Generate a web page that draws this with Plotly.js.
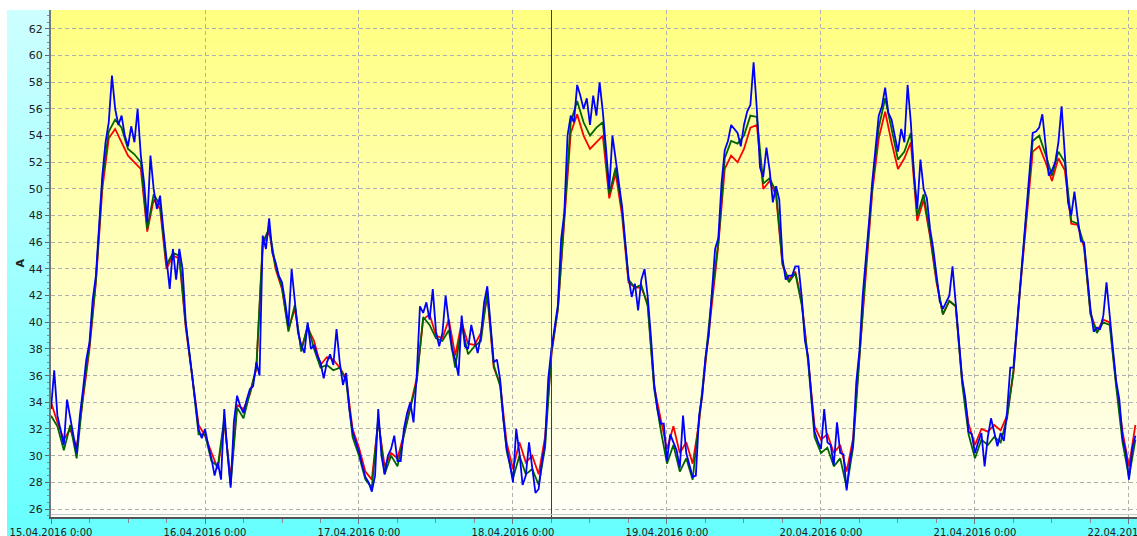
<!DOCTYPE html>
<html>
<head>
<meta charset="utf-8">
<script src="https://cdn.plot.ly/plotly-3.0.1.min.js"></script>
<style>
  html, body { margin: 0; padding: 0; background: #ffffff; }
  #wrap { position: relative; width: 1137px; height: 536px; overflow: hidden; background: #ffffff; }
  #cyan { position: absolute; left: 7px; top: 10px; width: 1130px; height: 526px;
          background: linear-gradient(to bottom, #cdffff 0%, #a6ffff 45%, #66ffff 100%); }
  #plotbg { position: absolute; left: 51px; top: 10px; width: 1086px; height: 507px;
            background: linear-gradient(to bottom, #ffff80 0%, #ffffb8 45%, #fffff8 100%); }
  #chart { position: absolute; left: 0; top: 0; width: 1137px; height: 536px; }
</style>
</head>
<body>
<div id="wrap">
  <div id="cyan"></div>
  <div id="plotbg"></div>
  <div id="chart"></div>
</div>
<script>
// ---- data ----
const seriesStart = '2016-04-15 00:00';
const blueStepMinutes = 30;
const redGreenStepMinutes = 60;

// Phase currents, A
const blueValues = [
  33.5, 36.4, 33.0, 32.0, 30.8, 34.2, 32.7, 31.5, 30.2, 33.0,
  35.0, 37.2, 38.5, 41.7, 43.5, 47.0, 51.0, 53.5, 55.0, 58.5,
  56.0, 54.8, 55.5, 54.0, 53.2, 54.7, 53.5, 56.0, 52.5, 50.5,
  47.5, 52.5, 50.0, 48.5, 49.5, 47.0, 44.5, 42.5, 45.5, 43.2,
  45.5, 44.0, 40.0, 38.0, 36.3, 34.3, 32.0, 31.3, 32.0, 30.8,
  29.8, 28.5, 29.5, 28.2, 33.5, 30.2, 27.6, 32.5, 34.5, 33.7,
  33.2, 34.2, 35.0, 35.2, 37.0, 36.0, 46.5, 45.5, 47.8, 45.2,
  44.5, 43.5, 43.0, 41.5, 39.7, 44.0, 41.5, 39.2, 38.3, 37.7,
  40.0, 38.0, 38.3, 37.5, 37.0, 35.8, 37.0, 37.6, 36.8, 39.5,
  37.0, 35.3, 36.2, 33.5, 31.8, 31.0, 30.3, 29.3, 28.4, 28.0,
  27.3, 28.5, 33.5, 30.0, 28.6, 30.0, 30.5, 31.5, 29.6, 29.6,
  32.0, 33.2, 34.0, 32.5, 36.0, 41.2, 40.7, 41.5, 40.2, 42.5,
  39.3, 38.2, 39.2, 42.0, 39.8, 38.0, 37.2, 36.0, 40.5, 38.2,
  38.0, 39.8, 38.7, 37.7, 39.0, 41.5, 42.7, 40.0, 37.0, 37.2,
  35.7, 32.7, 30.6, 29.4, 28.0, 32.0, 30.2, 27.8, 28.5, 31.0,
  29.3, 27.2, 27.5, 29.5, 31.0, 35.8, 38.0, 39.5, 41.3, 46.2,
  48.2, 54.0, 55.5, 55.0, 57.8, 57.0, 56.0, 56.8, 54.8, 57.0,
  55.5, 58.0, 55.8, 53.0, 50.0, 54.0, 52.3, 50.7, 48.7, 46.0,
  43.4, 41.9, 42.9, 40.9, 43.2, 44.0, 41.9, 38.9, 35.4, 33.5,
  32.4, 32.4, 29.6, 31.6, 31.0, 30.4, 29.1, 33.0, 30.2, 29.2,
  28.4, 28.5, 33.0, 34.5, 37.4, 39.0, 42.2, 45.5, 46.3, 50.4,
  52.9, 53.6, 54.8, 54.5, 54.2, 53.2, 54.8, 55.8, 56.3, 59.5,
  56.0, 51.6, 50.9, 53.1, 51.4, 49.0, 50.2, 49.2, 44.8, 43.2,
  43.5, 43.5, 44.2, 44.2, 41.9, 38.6, 37.4, 34.5, 31.8, 31.1,
  30.5, 33.5, 31.0, 30.8, 29.3, 32.5, 30.2, 30.1, 27.4, 29.6,
  30.9, 35.5, 37.9, 42.0, 44.6, 47.6, 50.6, 53.2, 55.5, 56.2,
  57.6, 55.7, 55.2, 54.0, 52.8, 54.5, 53.5, 57.8, 55.0, 51.0,
  48.5, 52.2, 50.0, 49.3, 47.0, 45.5, 43.5, 41.6, 41.0, 41.5,
  42.0, 44.2, 41.5, 38.6, 35.8, 34.3, 31.8, 31.6, 30.2, 31.0,
  31.7, 29.2, 31.4, 32.8, 31.8, 30.7, 31.7, 31.1, 33.3, 36.6,
  36.6, 39.5, 42.7, 45.5, 48.1, 50.8, 54.2, 54.3, 54.6, 55.6,
  53.2, 51.0, 51.4, 52.0, 53.5, 56.2, 52.6, 49.0, 48.0, 49.8,
  47.8, 46.1, 46.0, 43.2, 41.0, 39.3, 39.6, 39.5, 40.5, 43.0,
  40.2, 38.0, 35.6, 34.2, 31.3, 30.3, 28.2, 30.5, 31.5
];

const redValues = [
  34.0, 32.5, 31.2, 32.0, 30.6, 34.5, 38.0, 43.0, 50.0, 53.8,
  54.5, 53.5, 52.5, 52.0, 51.5, 46.8, 49.2, 48.5, 44.0, 45.0,
  44.8, 39.6, 36.0, 32.3, 31.5, 30.3, 29.0, 32.5, 28.3, 33.8,
  33.5, 34.6, 36.5, 45.8, 46.8, 44.0, 42.5, 39.5, 41.0, 38.0,
  39.6, 38.6, 36.8, 37.4, 37.2, 36.6, 35.8, 32.0, 30.6, 28.8,
  28.2, 32.6, 29.2, 30.2, 29.8, 31.6, 33.6, 35.8, 40.2, 40.6,
  39.0, 38.8, 40.2, 37.5, 40.0, 38.4, 38.3, 39.2, 42.0, 36.6,
  35.4, 31.0, 29.0, 31.0, 29.5, 30.0, 28.6, 31.4, 37.6, 41.0,
  47.6, 54.2, 55.6, 54.0, 53.0, 53.5, 54.0, 49.3, 51.2, 48.0,
  43.0, 42.6, 42.6, 41.4, 35.2, 32.8, 30.5, 32.2, 30.2, 31.0,
  29.4, 32.5, 37.0, 41.8, 45.8, 51.5, 52.5, 52.0, 53.0, 54.6,
  54.8, 50.0, 50.6, 49.5, 44.3, 43.2, 43.8, 41.5, 37.2, 32.2,
  31.2, 31.6, 30.2, 30.8, 28.8, 31.3, 37.4, 44.0, 49.8, 53.8,
  55.8, 53.5, 51.5, 52.3, 53.5, 47.6, 49.2, 46.4, 43.0, 40.6,
  41.6, 41.2, 35.6, 32.4, 30.8, 32.0, 31.8, 32.3, 31.9, 33.0,
  36.2, 42.3, 47.4, 52.8, 53.2, 52.0, 50.6, 52.3, 51.4, 47.4,
  47.3, 45.6, 40.7, 39.3, 40.2, 40.0, 35.4, 31.8, 29.2, 32.3
];

const greenValues = [
  33.0, 32.2, 30.4, 32.3, 29.8, 34.6, 38.3, 43.2, 50.6, 54.3,
  55.2, 54.6, 53.0, 52.6, 52.0, 47.0, 49.6, 48.8, 44.3, 45.2,
  45.0, 39.8, 36.0, 31.6, 31.6, 29.6, 29.2, 32.8, 27.8, 33.6,
  32.8, 34.6, 36.6, 46.0, 47.0, 44.2, 42.6, 39.3, 41.3, 37.8,
  39.8, 38.0, 36.6, 36.8, 36.4, 36.6, 35.6, 31.4, 30.0, 28.2,
  27.6, 32.8, 28.6, 30.0, 29.2, 31.5, 33.6, 35.6, 40.4, 39.8,
  38.8, 38.6, 39.4, 36.6, 39.8, 37.6, 38.2, 38.6, 42.3, 36.8,
  35.2, 30.4, 28.3, 30.0, 28.6, 29.0, 27.8, 30.6, 37.8, 41.0,
  48.0, 55.0, 56.6, 55.0, 54.0, 54.6, 55.0, 49.6, 51.6, 48.4,
  43.2, 42.6, 42.8, 41.2, 35.0, 32.0, 29.4, 30.8, 28.8, 29.8,
  28.2, 32.6, 37.2, 42.0, 46.0, 52.3, 53.6, 53.4, 54.0, 55.5,
  55.4, 50.4, 50.8, 49.8, 44.4, 43.0, 43.7, 41.3, 37.0, 31.4,
  30.2, 30.6, 29.2, 29.8, 27.6, 30.6, 37.6, 44.2, 50.2, 54.6,
  56.8, 54.4, 52.2, 52.8, 54.2, 48.0, 49.6, 46.6, 43.2, 40.6,
  41.6, 41.2, 35.4, 31.6, 29.8, 31.2, 30.8, 31.4, 31.0, 32.8,
  36.4, 42.4, 47.8, 53.6, 54.0, 52.6, 51.0, 52.8, 52.0, 47.6,
  47.4, 45.8, 40.6, 39.2, 40.0, 39.8, 35.2, 31.0, 28.4, 31.2
];

const dayTicks = ['2016-04-15', '2016-04-16', '2016-04-17', '2016-04-18',
                  '2016-04-19', '2016-04-20', '2016-04-21', '2016-04-22'];
const dayLabels = ['15.04.2016 0:00', '16.04.2016 0:00', '17.04.2016 0:00', '18.04.2016 0:00',
                   '19.04.2016 0:00', '20.04.2016 0:00', '21.04.2016 0:00', '22.04.2016 0:00'];
const cursorTime = '2016-04-18 06:00';
const xRange = ['2016-04-15 00:00', '2016-04-22 01:15'];
const yRange = [25.4, 63.42];
const yAxisTitle = 'A';

// ---- build time axes ----
function pad(n) { return (n < 10 ? '0' : '') + n; }
function timeStamps(count, stepMin) {
  const base = Date.UTC(2016, 3, 15, 0, 0);
  const out = [];
  for (let i = 0; i < count; i++) {
    const d = new Date(base + i * stepMin * 60000);
    out.push(d.getUTCFullYear() + '-' + pad(d.getUTCMonth() + 1) + '-' + pad(d.getUTCDate()) +
             ' ' + pad(d.getUTCHours()) + ':' + pad(d.getUTCMinutes()));
  }
  return out;
}

const traces = [
  { x: timeStamps(redValues.length, redGreenStepMinutes), y: redValues, type: 'scatter', mode: 'lines',
    line: { color: '#ff0000', width: 1.8 }, name: 'L1', hoverinfo: 'skip' },
  { x: timeStamps(greenValues.length, redGreenStepMinutes), y: greenValues, type: 'scatter', mode: 'lines',
    line: { color: '#006400', width: 1.8 }, name: 'L2', hoverinfo: 'skip' },
  { x: timeStamps(blueValues.length, blueStepMinutes), y: blueValues, type: 'scatter', mode: 'lines',
    line: { color: '#0000ff', width: 1.8 }, name: 'L3', hoverinfo: 'skip' }
];

const fontFam = '"DejaVu Sans", Verdana, sans-serif';

const layout = {
  width: 1137, height: 536,
  margin: { l: 51, r: 0, t: 10, b: 19, pad: 0 },
  paper_bgcolor: 'rgba(0,0,0,0)',
  plot_bgcolor: 'rgba(0,0,0,0)',
  showlegend: false,
  xaxis: {
    type: 'date',
    range: xRange,
    tickmode: 'array',
    tickvals: dayTicks,
    ticktext: dayLabels,
    ticklabeloverflow: 'allow',
    ticks: 'outside', ticklen: 5, tickcolor: '#777777', tickwidth: 1,
    showgrid: true, gridcolor: '#b0b0b0', griddash: '4px,3px', gridwidth: 1,
    showline: true, linecolor: '#555555', linewidth: 1.5,
    zeroline: false,
    tickfont: { family: fontFam, size: 10, color: '#222222' },
    minor: { tick0: '2016-04-15', dtick: 21600000, ticks: 'outside', ticklen: 4,
             tickcolor: '#888888', showgrid: false }
  },
  yaxis: {
    range: yRange,
    tick0: 0, dtick: 2,
    ticks: 'outside', ticklen: 4, tickcolor: '#666666',
    showgrid: true, gridcolor: '#b0b0b0', griddash: '4px,3px', gridwidth: 1,
    showline: true, linecolor: '#777777', linewidth: 2,
    zeroline: false,
    tickfont: { family: fontFam, size: 11, color: '#222222' },
    minor: { dtick: 0.5, ticks: 'outside', ticklen: 2, tickcolor: '#888888', showgrid: false }
  },
  shapes: [
    { type: 'line', xref: 'x', yref: 'paper', x0: cursorTime, x1: cursorTime, y0: 0, y1: 1,
      line: { color: '#3c3c3c', width: 1 } },
    { type: 'line', xref: 'paper', yref: 'paper', x0: 0, x1: 1, y0: 0.005, y1: 0.005,
      line: { color: '#c8c8c8', width: 1 } }
  ],
  annotations: [
    { text: '<b>' + yAxisTitle + '</b>', xref: 'paper', yref: 'paper', x: 0, y: 0.5,
      xanchor: 'center', yanchor: 'middle', xshift: -31, textangle: -90, showarrow: false,
      font: { family: fontFam, size: 11, color: '#222222' } }
  ]
};

Plotly.newPlot('chart', traces, layout, { displayModeBar: false, staticPlot: true });
</script>
</body>
</html>
